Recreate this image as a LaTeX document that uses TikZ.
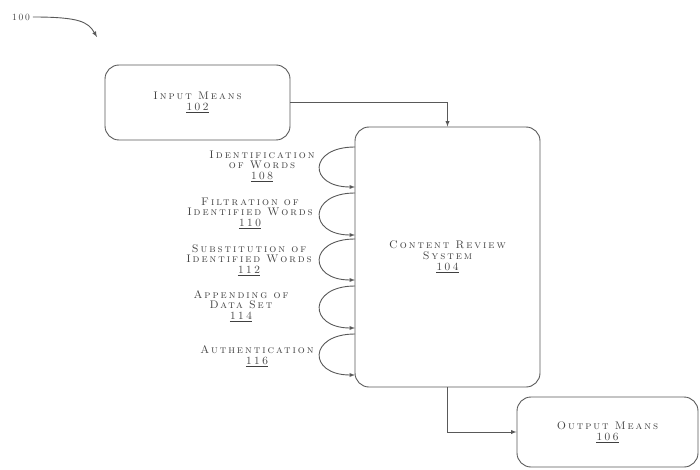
\documentclass[tikz,border=0pt]{standalone}
\usepackage{fontspec}
\newfontfamily\patentfont{lmroman10-regular.otf}[LetterSpace=18,SmallCapsFont=lmromancaps10-regular.otf,SmallCapsFeatures={LetterSpace=18}]
\usepackage{tikz}
\usetikzlibrary{arrows,calc,positioning}
\tikzset{>=latex}
\tikzstyle{block}=[rectangle,draw=black!65,line width=0.9pt,rounded corners=14pt,text=black!75,font=\fontsize{11}{11}\patentfont\scshape,align=center]
\tikzstyle{step label}=[text=black!75,font=\fontsize{11}{10.5}\patentfont\scshape,align=center]
\tikzstyle{link}=[draw=black!65,line width=0.9pt]

\begin{document}
\begin{tikzpicture}[x=1pt,y=-1pt,inner sep=1mm]
	\useasboundingbox (0,0) rectangle (700,470);
	\def \loopx {308};

	\node[block,minimum width=185pt,minimum height=75pt] (input) at (197.5,102.5) {Input Means\\\underline{102}};
	\node[block,minimum width=185pt,minimum height=260pt] (crs) at (447.5,257) {Content Review\\System\\\underline{104}};
	\node[block,minimum width=181pt,minimum height=70pt] (output) at (607.5,432) {Output Means\\\underline{106}};

	\node[step label,font=\fontsize{9.5}{10}\patentfont] (fig) at (21,17) {100};
	\coordinate (figtip) at (97,37);
	\draw[link,->] (fig.east) .. controls (80,17) and (88,22) .. (figtip);

	% input to content review system
	\draw[link,->] (input.east) -| (crs.north);
	% content review system to output
	\draw[link,->] (crs.south) |- (output.west);

	% steps on the left side of the system
	\node[step label] (ident) at (262,166) {Identification\\of Words\\\underline{108}};
	\node[step label] (filt) at (250,213) {Filtration of\\Identified Words\\\underline{110}};
	\node[step label] (subst) at (249,260) {Substitution of\\Identified Words\\\underline{112}};
	\node[step label] (app) at (241,306) {Appending of\\Data Set\\\underline{114}};
	\node[step label] (auth) at (257,356) {Authentication\\\underline{116}};

	\foreach \name/\ya/\yb in {ident/147/187, filt/193/235, subst/239/280, app/286/328, auth/334/375} {
		\coordinate (\name-in) at (355,\ya);
		\coordinate (\name-out) at (355,\yb);
		\draw[link,->] (\name-in) .. controls (\loopx,\ya) and (\loopx,\yb) .. (\name-out);
	}
\end{tikzpicture}
\end{document}
